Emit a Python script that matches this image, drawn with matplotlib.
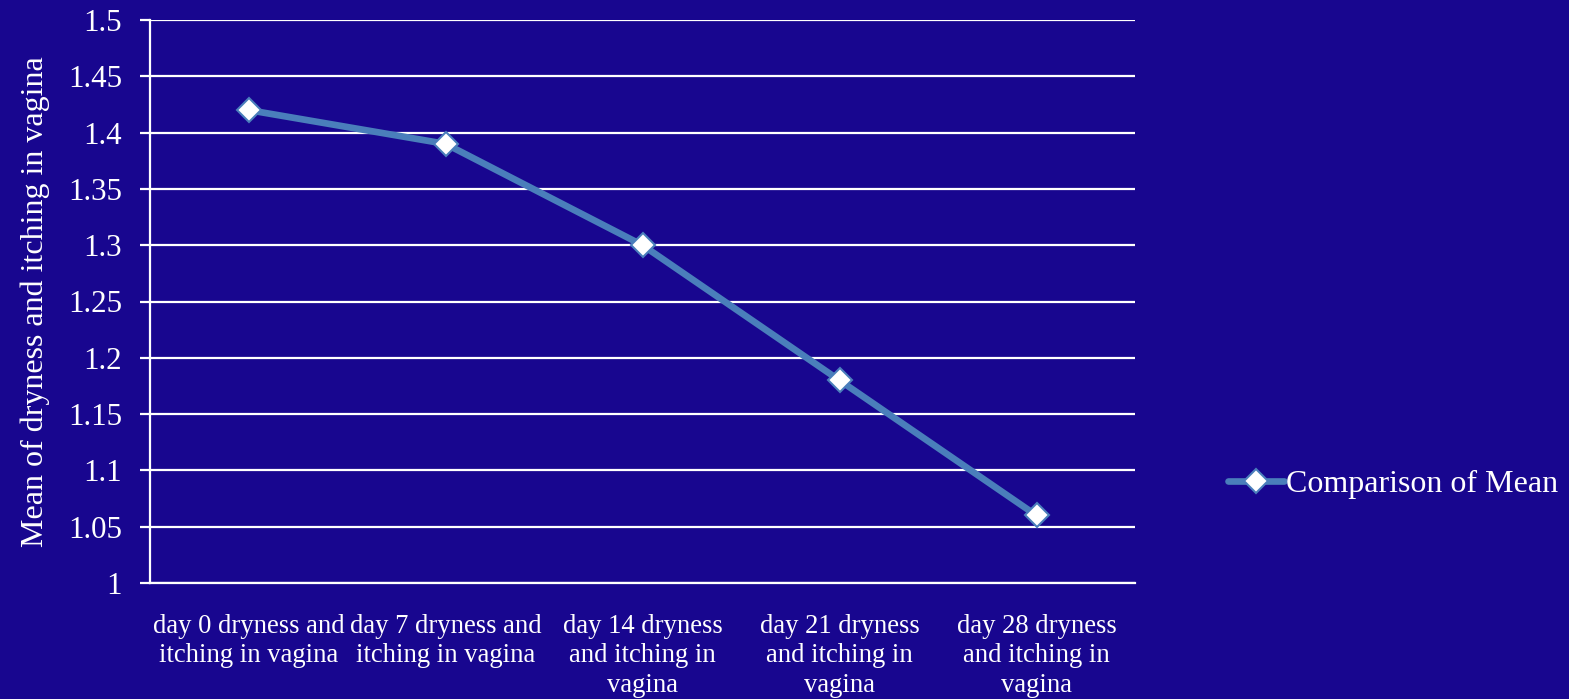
import matplotlib
matplotlib.use("Agg")
import matplotlib.pyplot as plt

categories = [
    "day 0 dryness and\nitching in vagina",
    "day 7 dryness and\nitching in vagina",
    "day 14 dryness\nand itching in\nvagina",
    "day 21 dryness\nand itching in\nvagina",
    "day 28 dryness\nand itching in\nvagina",
]
means = [1.42, 1.39, 1.30, 1.18, 1.06]
y_ticks = [1, 1.05, 1.1, 1.15, 1.2, 1.25, 1.3, 1.35, 1.4, 1.45, 1.5]
y_tick_labels = ["1", "1.05", "1.1", "1.15", "1.2", "1.25", "1.3", "1.35", "1.4", "1.45", "1.5"]
series_name = "Comparison of Mean"
y_label = "Mean of dryness and itching in vagina"

bg = "#18068f"
line_color = "#4a7ebb"

plt.rcParams["font.family"] = ["Liberation Serif", "DejaVu Serif"]

fig = plt.figure(figsize=(15.69, 6.99), dpi=100, facecolor=bg)
ax = fig.add_axes([150 / 1569, 1 - 583 / 699, (1135 - 150) / 1569, (583 - 20) / 699])
ax.set_facecolor(bg)

x = list(range(len(categories)))
ax.plot(x, means, color=line_color, lw=4.8, marker="D", markersize=12,
        markerfacecolor="white", markeredgecolor=line_color, markeredgewidth=1.5,
        label=series_name, zorder=3, solid_capstyle="round")

ax.set_xlim(-0.5, len(categories) - 0.5)
ax.set_ylim(1.0, 1.5)
ax.set_yticks(y_ticks)
ax.set_yticklabels(y_tick_labels)
ax.set_xticks(x)
ax.set_xticklabels(categories, fontsize=19.2, color="white", linespacing=1.24)

ax.yaxis.grid(True, color="white", lw=1.6)
ax.set_axisbelow(True)
for s in ("top", "right"):
    ax.spines[s].set_visible(False)
for s in ("left", "bottom"):
    ax.spines[s].set_color("white")
    ax.spines[s].set_linewidth(1.6)

ax.tick_params(axis="y", colors="white", labelsize=22.3, length=7, width=1.6, pad=13)
ax.tick_params(axis="x", colors="white", length=0, pad=22)
for lbl in ax.get_yticklabels():
    lbl.set_color("white")

ax.set_ylabel(y_label, color="white", fontsize=23, labelpad=13)

leg = fig.legend(loc="center left", bbox_to_anchor=(1228 / 1569, 1 - 484 / 699),
                 frameon=False, fontsize=23, handlelength=1.75, handletextpad=0.08,
                 borderaxespad=0, borderpad=0)
for t in leg.get_texts():
    t.set_color("white")

fig.savefig("out.png", dpi=100, facecolor=bg)
